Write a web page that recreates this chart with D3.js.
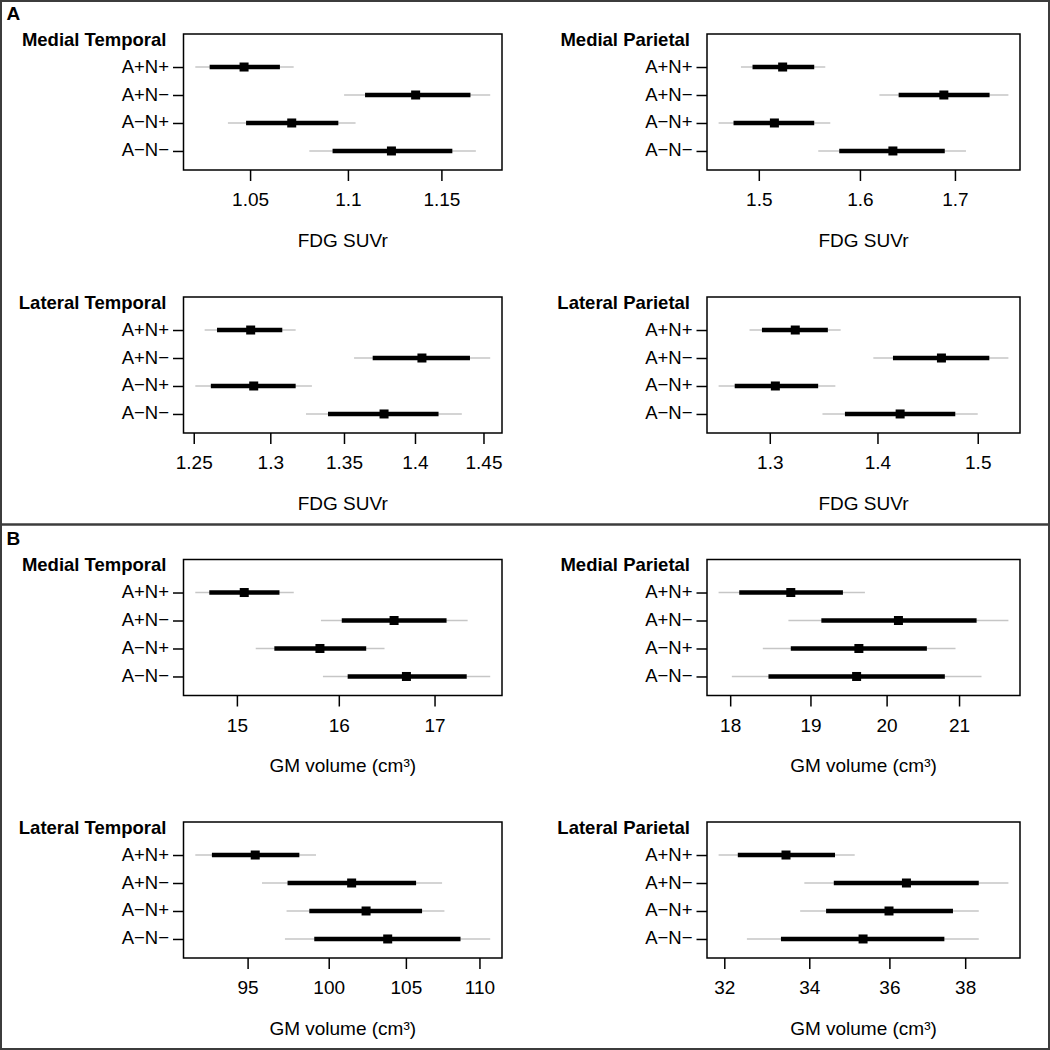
<!DOCTYPE html>
<html>
<head>
<meta charset="utf-8">
<script src="https://cdn.jsdelivr.net/npm/d3@7"></script>
<style>
  html, body { margin: 0; padding: 0; background: #fff; }
  svg { display: block; }
  text { font-family: "Liberation Sans", Arial, Helvetica, sans-serif; }
</style>
</head>
<body>
<div id="chart"></div>
<script>
// ---------- data ----------
const groups = ["A+N+", "A+N\u2212", "A\u2212N+", "A\u2212N\u2212"];
const sections = ["A", "B"];
const regions = ["Medial Temporal", "Medial Parietal", "Lateral Temporal", "Lateral Parietal"];
const axisTitles = ["FDG SUVr", "GM volume (cm\u00B3)"];

// FDG SUVr — mean, inner interval [lo, hi], outer interval [lo, hi] (order follows groups)
const fdgMTmean = [1.047, 1.136, 1.071, 1.123];
const fdgMTinner = [[1.030, 1.065], [1.109, 1.166], [1.048, 1.095], [1.092, 1.156]];
const fdgMTouter = [[1.023, 1.072], [1.098, 1.177], [1.039, 1.104], [1.080, 1.169]];
const fdgMTticks = [1.05, 1.1, 1.15];

const fdgMPmean = [1.523, 1.688, 1.515, 1.634];
const fdgMPinner = [[1.494, 1.554], [1.640, 1.738], [1.476, 1.554], [1.579, 1.689]];
const fdgMPouter = [[1.483, 1.565], [1.620, 1.759], [1.462, 1.570], [1.558, 1.712]];
const fdgMPticks = [1.5, 1.6, 1.7];

const fdgLTmean = [1.287, 1.405, 1.289, 1.378];
const fdgLTinner = [[1.265, 1.308], [1.370, 1.440], [1.261, 1.317], [1.339, 1.417]];
const fdgLTouter = [[1.257, 1.317], [1.357, 1.455], [1.251, 1.328], [1.324, 1.434]];
const fdgLTticks = [1.25, 1.3, 1.35, 1.4, 1.45];

const fdgLPmean = [1.323, 1.463, 1.305, 1.422];
const fdgLPinner = [[1.293, 1.353], [1.415, 1.512], [1.269, 1.344], [1.369, 1.477]];
const fdgLPouter = [[1.282, 1.365], [1.396, 1.532], [1.255, 1.360], [1.348, 1.500]];
const fdgLPticks = [1.3, 1.4, 1.5];

// GM volume (cm³)
const gmMTmean = [15.07, 16.57, 15.81, 16.70];
const gmMTinner = [[14.74, 15.41], [16.03, 17.13], [15.36, 16.28], [16.09, 17.35]];
const gmMTouter = [[14.61, 15.55], [15.82, 17.36], [15.18, 16.47], [15.84, 17.61]];
const gmMTticks = [15, 16, 17];

const gmMPmean = [18.75, 20.16, 19.63, 19.60];
const gmMPinner = [[18.11, 19.42], [19.14, 21.25], [18.75, 20.55], [18.47, 20.80]];
const gmMPouter = [[17.86, 19.71], [18.72, 21.71], [18.40, 20.95], [18.02, 21.32]];
const gmMPticks = [18, 19, 20, 21];

const gmLTmean = [95.46, 101.46, 102.39, 103.80];
const gmLTinner = [[92.88, 98.16], [97.43, 105.68], [98.78, 106.08], [99.09, 108.69]];
const gmLTouter = [[91.91, 99.20], [95.87, 107.43], [97.37, 107.59], [97.27, 110.75]];
const gmLTticks = [95, 100, 105, 110];

const gmLPmean = [33.44, 36.44, 35.99, 35.33];
const gmLPinner = [[32.31, 34.63], [34.60, 38.37], [34.41, 37.67], [33.32, 37.44]];
const gmLPouter = [[31.87, 35.12], [33.88, 39.19], [33.78, 38.37], [32.52, 38.37]];
const gmLPticks = [32, 34, 36, 38];

// ---------- layout ----------
const W = 1050, H = 1050;
const colL = [183.5, 707], colR = [502, 1020];
const rowTop = [34, 297, 559.5, 822];
const boxH = 136;

const panels = [
  {sec: 0, row: 0, col: 0, region: regions[0], mean: fdgMTmean, inner: fdgMTinner, outer: fdgMTouter, ticks: fdgMTticks},
  {sec: 0, row: 0, col: 1, region: regions[1], mean: fdgMPmean, inner: fdgMPinner, outer: fdgMPouter, ticks: fdgMPticks},
  {sec: 0, row: 1, col: 0, region: regions[2], mean: fdgLTmean, inner: fdgLTinner, outer: fdgLTouter, ticks: fdgLTticks},
  {sec: 0, row: 1, col: 1, region: regions[3], mean: fdgLPmean, inner: fdgLPinner, outer: fdgLPouter, ticks: fdgLPticks},
  {sec: 1, row: 2, col: 0, region: regions[0], mean: gmMTmean, inner: gmMTinner, outer: gmMTouter, ticks: gmMTticks},
  {sec: 1, row: 2, col: 1, region: regions[1], mean: gmMPmean, inner: gmMPinner, outer: gmMPouter, ticks: gmMPticks},
  {sec: 1, row: 3, col: 0, region: regions[2], mean: gmLTmean, inner: gmLTinner, outer: gmLTouter, ticks: gmLTticks},
  {sec: 1, row: 3, col: 1, region: regions[3], mean: gmLPmean, inner: gmLPinner, outer: gmLPouter, ticks: gmLPticks}
];

const svg = d3.select("#chart").append("svg")
  .attr("width", W).attr("height", H)
  .attr("viewBox", `0 0 ${W} ${H}`);

svg.append("rect").attr("width", W).attr("height", H).attr("fill", "#fff");

// outer frame and separator
svg.append("rect").attr("x", 1).attr("y", 1).attr("width", W - 2).attr("height", H - 2)
  .attr("fill", "none").attr("stroke", "#3c3c3c").attr("stroke-width", 2);
svg.append("line").attr("x1", 0).attr("x2", W).attr("y1", 524.5).attr("y2", 524.5)
  .attr("stroke", "#3c3c3c").attr("stroke-width", 2.5);

// section letters
const secY = [19.5, 544.5];
sections.forEach((s, i) => {
  svg.append("text").attr("x", 6.5).attr("y", secY[i])
    .attr("font-size", 19).attr("font-weight", "bold").attr("fill", "#000").text(s);
});

const rowVal = i => groups.length - i; // A+N+ at top (4) ... A−N− at bottom (1)

panels.forEach(p => {
  const L = colL[p.col], R = colR[p.col];
  const top = rowTop[p.row], bottom = top + boxH;

  // x domain: extent of outer intervals, padded 4% on the log scale
  const lo = d3.min(p.outer, d => d[0]), hi = d3.max(p.outer, d => d[1]);
  const pad = (Math.log(hi) - Math.log(lo)) * 0.04;
  const x = d3.scaleLog()
    .domain([Math.exp(Math.log(lo) - pad), Math.exp(Math.log(hi) + pad)])
    .range([L, R]);
  const ypad = (5 - 0.5) * 0.04;
  const y = d3.scaleLinear().domain([0.5 - ypad, 5 + ypad]).range([bottom, top]);

  const g = svg.append("g");

  // outer (grey) intervals
  g.selectAll("line.outer").data(p.outer).enter().append("line")
    .attr("class", "outer")
    .attr("x1", d => x(d[0])).attr("x2", d => x(d[1]))
    .attr("y1", (d, i) => y(rowVal(i))).attr("y2", (d, i) => y(rowVal(i)))
    .attr("stroke", "#c6c6c6").attr("stroke-width", 1.6);

  // inner (black) intervals
  g.selectAll("line.inner").data(p.inner).enter().append("line")
    .attr("class", "inner")
    .attr("x1", d => x(d[0])).attr("x2", d => x(d[1]))
    .attr("y1", (d, i) => y(rowVal(i))).attr("y2", (d, i) => y(rowVal(i)))
    .attr("stroke", "#000").attr("stroke-width", 4.5);

  // means
  const sq = 9;
  g.selectAll("rect.mean").data(p.mean).enter().append("rect")
    .attr("class", "mean")
    .attr("x", d => x(d) - sq / 2).attr("y", (d, i) => y(rowVal(i)) - sq / 2)
    .attr("width", sq).attr("height", sq).attr("fill", "#000");

  // box
  g.append("rect").attr("x", L).attr("y", top).attr("width", R - L).attr("height", boxH)
    .attr("fill", "none").attr("stroke", "#000").attr("stroke-width", 1.5);

  // x axis
  const xa = g.append("g").attr("transform", `translate(0,${bottom})`)
    .call(d3.axisBottom(x).tickValues(p.ticks).tickFormat(d => String(d))
      .tickSize(11).tickSizeOuter(0).tickPadding(12));
  xa.select(".domain").remove();
  xa.selectAll(".tick line").attr("stroke", "#000").attr("stroke-width", 1.5);
  xa.selectAll(".tick text").attr("font-size", 19).attr("fill", "#000")
    .attr("font-family", "'Liberation Sans', Arial, sans-serif");

  // y axis
  const ya = g.append("g").attr("transform", `translate(${L},0)`)
    .call(d3.axisLeft(y).tickValues(groups.map((d, i) => rowVal(i)))
      .tickFormat(v => groups[groups.length - v])
      .tickSize(10.5).tickSizeOuter(0).tickPadding(4));
  ya.select(".domain").remove();
  ya.selectAll(".tick line").attr("stroke", "#000").attr("stroke-width", 1.5);
  ya.selectAll(".tick text").attr("font-size", 18.5).attr("fill", "#000").attr("dy", "0.27em")
    .attr("font-family", "'Liberation Sans', Arial, sans-serif");

  // axis title
  g.append("text").attr("x", (L + R) / 2).attr("y", bottom + 76.5)
    .attr("text-anchor", "middle").attr("font-size", 19).attr("fill", "#000")
    .text(axisTitles[p.sec]);

  // panel title
  g.append("text").attr("x", L - 17).attr("y", top + 11.5)
    .attr("text-anchor", "end").attr("font-size", 18.5).attr("font-weight", "bold")
    .attr("fill", "#000").text(p.region);
});
</script>
</body>
</html>
